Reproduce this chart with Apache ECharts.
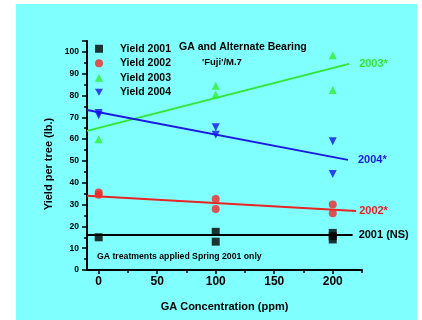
<!DOCTYPE html>
<html><head><meta charset="utf-8">
<script src="https://cdn.jsdelivr.net/npm/echarts@6/dist/echarts.min.js"></script>
<style>html,body{margin:0;padding:0;background:#fff}#c{width:422px;height:320px}</style>
</head><body><div id="c"></div>
<script>
// Data
var xLabels = [0, 50, 100, 150, 200];
var yield2001 = [[0,15],[100,17.5],[100,13],[200,17],[200,15.5],[200,14]];
var yield2002 = [[0,35.5],[0,34.5],[100,32.5],[100,28],[200,30],[200,26]];
var yield2003 = [[0,60],[100,84.5],[100,80.5],[200,98.5],[200,82.5]];
var yield2004 = [[0,72],[0,71],[100,65.5],[100,62],[200,59],[200,44]];
var fit2001 = [[-10,16],[217,16]];
var fit2002 = [[-10,34],[220,27]];
var fit2003 = [[-10,63.8],[214,94.5]];
var fit2004 = [[-10,73.4],[213,50.5]];
var fitLabels = ['2001 (NS)', '2002*', '2003*', '2004*'];

var FONT = '"Liberation Sans", Arial, sans-serif';
var cBlack = '#000000', cRed = '#f02828', cGreen = '#2ef02e', cBlue = '#1414e6';
var downTri = 'path://M0,0 L10,0 L5,9 Z';

function fitLine(data, color, label, dist) {
  return {
    type: 'line', data: data, symbol: 'none', clip: false, silent: true,
    lineStyle: {color: color, width: 2},
    endLabel: {show: true, formatter: label, color: color, fontFamily: FONT,
      fontWeight: 'bold', fontSize: 11, distance: dist},
    z: 2
  };
}
function pts(name, data, symbol, color) {
  return {type: 'scatter', name: name, data: data, symbol: symbol, symbolSize: 8,
    itemStyle: {color: color}, z: 3};
}

var chart = echarts.init(document.getElementById('c'), null, {renderer: 'canvas'});
chart.setOption({
  backgroundColor: '#fff',
  animation: false,
  graphic: [
    {type: 'rect', shape: {x: 16, y: 4, width: 401, height: 316}, style: {fill: '#80ffff'}, z: -10, silent: true},
    {type: 'text', left: 179, top: 42, style: {text: 'GA and Alternate Bearing', font: 'bold 10.5px ' + FONT, fill: '#000'}},
    {type: 'text', left: 202, top: 57, style: {text: "'Fuji'/M.7", font: 'bold 9.5px ' + FONT, fill: '#000'}},
    {type: 'text', left: 97, top: 252, style: {text: 'GA treatments applied Spring 2001 only', font: 'bold 8.7px ' + FONT, fill: '#000'}},
    {type: 'text', x: 49, y: 164, rotation: Math.PI / 2,
      style: {text: 'Yield per tree (lb.)', font: 'bold 11px ' + FONT, fill: '#000', align: 'center', verticalAlign: 'middle'}}
  ],
  legend: {
    orient: 'vertical', left: 95, top: 42, itemWidth: 8, itemHeight: 8, itemGap: 1, padding: 0,
    data: [
      {name: 'Yield 2001'}, {name: 'Yield 2002'}, {name: 'Yield 2003'},
      {name: 'Yield 2004', icon: downTri}
    ],
    textStyle: {fontFamily: FONT, fontWeight: 'bold', fontSize: 10.5, color: '#000', lineHeight: 13.5, padding: [0,0,0,12]}
  },
  grid: {left: 87, right: 60, top: 41, bottom: 50, containLabel: false},
  xAxis: [{
    type: 'value', min: -10, max: 225,
    axisLine: {onZero: false, lineStyle: {color: '#000', width: 2}},
    axisTick: {show: true, customValues: [0, 50, 100, 150, 200], length: 4, lineStyle: {color: '#000', width: 1.5}},
    axisLabel: {customValues: xLabels, color: '#000', fontFamily: FONT, fontWeight: 'bold', fontSize: 12, margin: 6},
    splitLine: {show: false},
    name: 'GA Concentration (ppm)', nameLocation: 'middle', nameGap: 31,
    nameTextStyle: {color: '#000', fontFamily: FONT, fontWeight: 'bold', fontSize: 11}
  }, {
    type: 'value', min: -10, max: 225, position: 'bottom',
    axisLine: {show: false, onZero: false},
    axisTick: {show: true, customValues: [25, 75, 125, 175, 225], length: 3, lineStyle: {color: '#000', width: 1.5}},
    axisLabel: {show: false}, splitLine: {show: false}
  }],
  yAxis: {
    type: 'value', min: 0, max: 105, interval: 10,
    axisLine: {show: true, onZero: false, lineStyle: {color: '#000', width: 2}},
    axisTick: {show: true, length: 5, lineStyle: {color: '#000', width: 1.5}},
    minorTick: {show: true, splitNumber: 2, length: 3, lineStyle: {color: '#000', width: 1.5}},
    axisLabel: {color: '#000', fontFamily: FONT, fontWeight: 'bold', fontSize: 8.5, margin: 8, showMaxLabel: false,
      formatter: function (v) { return v > 100 ? '' : String(v); }},
    splitLine: {show: false}
  },
  series: [
    fitLine(fit2001, cBlack, fitLabels[0], 6),
    fitLine(fit2002, '#e82424', fitLabels[1], 3),
    fitLine(fit2003, '#33e633', fitLabels[2], 10),
    fitLine(fit2004, '#1a1ae0', fitLabels[3], 10),
    pts('Yield 2001', yield2001, 'rect', cBlack),
    pts('Yield 2002', yield2002, 'circle', cRed),
    pts('Yield 2003', yield2003, 'triangle', cGreen),
    pts('Yield 2004', yield2004, downTri, cBlue)
  ]
});
</script></body></html>
